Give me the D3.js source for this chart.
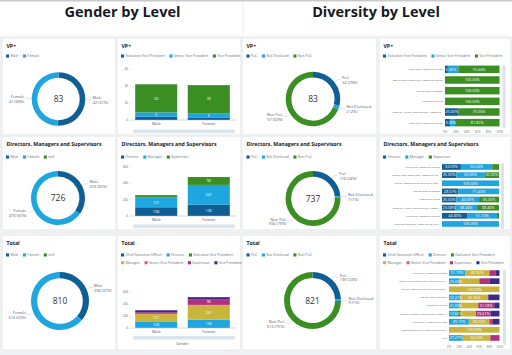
<!DOCTYPE html>
<html><head><meta charset="utf-8">
<script src="https://cdn.jsdelivr.net/npm/d3@7"></script>
<style>
html,body{margin:0;padding:0;background:#eff0f1;}
svg{display:block;font-family:"Open Sans","Noto Sans",Arial,sans-serif;}
</style></head><body>
<svg id="c" width="512" height="355"></svg>
<script>
// ---------------- DATA ----------------
const headerTitles = ["Gender by Level", "Diversity by Level"];
const panelTitles = ["VP+", "Directors, Managers and Supervisors", "Total"];

const genders = ["Male", "Female"];
const genderLegend = ["Male", "Female", "null"];
const vpGenderCounts = [42, 41];
const dmsGenderCounts = [253, 473];
const totalGenderCounts = [296, 514];

const vpLevels = ["Executive Vice President", "Senior Vice President", "Vice President"];
const vpMale = [4, 5, 33];
const vpFemale = [3, 5, 33];
const dmsLevels = ["Director", "Manager", "Supervisor"];
const dmsMale = [106, 121, 26];
const dmsFemale = [136, 241, 96];
const totalLevels = ["Chief Executive Officer", "Director", "Executive Vice President", "Manager", "Senior Vice President", "Supervisor", "Vice President"];
const totalMale = [1, 106, 4, 121, 5, 26, 33];
const totalFemale = [0, 136, 3, 241, 5, 96, 33];
const vpTicks = [0, 20, 40, 60];
const bigTicks = [0, 200, 400, 600];

const divKeys = ["PoC", "Not Disclosed", "Non PoC"];
const vpDivCounts = [24, 2, 57];
const dmsDivCounts = [174, 7, 556];
const totalDivCounts = [199, 9, 613];

const vpRaces = ["White (Not Hispanic or Latino)", "Two or More Races (Not Hispanic or Latino)", "I do not wish to answer", "Hispanic or Latino", "Black or African American (Not Hispanic o...", "Asian (Not Hispanic or Latino)"];
const vpRaceEVP = [5.26, 0, 0, 0, 25.00, 9.09];
const vpRaceSVP = [19.30, 0, 0, 0, 0, 9.09];
const vpRaceVP = [75.44, 100, 100, 100, 75.00, 81.82];

const dmsRaces = ["White (Not Hispanic or Latino)", "Two or More Races (Not Hispanic or Lat...", "Native Hawaiian or Other Pacific Islan...", "I do not wish to answer", "Hispanic or Latino", "Black or African American (Not Hispani...", "Asian (Not Hispanic or Latino)", "American Indian or Alaska Native (Not..."];
const dmsRaceDir = [33.09, 25.00, 0, 28.57, 25.00, 23.08, 44.83, 0];
const dmsRaceMgr = [55.04, 50.00, 100, 71.43, 40.00, 38.46, 51.72, 100];
const dmsRaceSup = [11.87, 25.00, 0, 0, 35.00, 38.46, 3.45, 0];

const totalRaces = ["White (Not Hispanic or Latino)", "Two or More Races (Not Hispanic or Lat...", "Native Hawaiian or Other Pacific Islan...", "I do not wish to answer", "Hispanic or Latino", "Black or African American (Not Hispani...", "Asian (Not Hispanic or Latino)", "American Indian or Alaska Native (Not...", "null"];
const totRaceCEO = [0, 0, 0, 0, 0, 0, 0, 0, 0];
const totRaceDir = [31.73, 20.00, 0, 22.22, 21.05, 17.65, 39.19, 0, 27.27];
const totRaceEVP = [0.54, 0, 0, 0, 0, 5.88, 0.90, 0, 0];
const totRaceMgr = [46.92, 40.00, 100, 55.56, 36.84, 29.41, 38.74, 100, 54.55];
const totRaceSVP = [1.63, 0, 0, 0, 0, 0, 2.70, 0, 0];
const totRaceSup = [11.96, 20.00, 0, 0, 31.58, 29.41, 5.41, 0, 18.18];
const totRaceVP = [7.22, 20.00, 0, 22.22, 10.53, 17.65, 13.06, 0, 0];
const pctTicks = [0, 20, 40, 60, 80, 100];

// ---------------- STYLE ----------------
const C = {dblue:"#0f5f94", lblue:"#1fa6de", green:"#3a8e22", yellow:"#c9b53c", red:"#e8596a", magenta:"#b2307e", purple:"#3b2a8c"};
const c3 = [C.dblue, C.lblue, C.green];
const c7 = [C.dblue, C.lblue, C.green, C.yellow, C.red, C.magenta, C.purple];
const cols = [{x:3,w:112},{x:118,w:122},{x:243,w:133},{x:380,w:130}];
const rows = [{y:39,h:95},{y:137,h:92},{y:236,h:113}];
const gray = "#687078", dark = "#16191f";

const svg = d3.select("#c");
svg.append("rect").attr("width",512).attr("height",355).attr("fill","#eff0f1");
svg.append("rect").attr("x",0).attr("y",0).attr("width",512).attr("height",36).attr("fill","#fff");
svg.append("rect").attr("x",0).attr("y",0).attr("width",512).attr("height",1.5).attr("fill","#c8cacc");
svg.append("line").attr("x1",243).attr("x2",243).attr("y1",1.5).attr("y2",36).attr("stroke","#e6e8ea").attr("stroke-width",0.8);
[122.5, 376].forEach((cx,i)=>svg.append("text").attr("x",cx).attr("y",16.8).attr("text-anchor","middle")
  .attr("font-size",14.5).attr("font-weight",700).attr("fill",dark).text(headerTitles[i]));

rows.forEach(r=>cols.forEach(c=>svg.append("rect").attr("x",c.x).attr("y",r.y).attr("width",c.w).attr("height",r.h).attr("fill","#fff")));

function title(ci, ri, text){
  svg.append("text").attr("x",cols[ci].x+3.5).attr("y",rows[ri].y+8.5).attr("font-size",5.2).attr("font-weight",700).attr("fill",dark).text(text);
}
function legend(x, y, labels, colors, split){
  const groups = split || [labels.map((_,i)=>i)];
  groups.forEach((grp,gi)=>{
    let cx = x; const yy = y + gi*7.8;
    grp.forEach(i=>{
      svg.append("rect").attr("x",cx).attr("y",yy-2.8).attr("width",3.1).attr("height",3.1).attr("fill",colors[i]);
      const t = svg.append("text").attr("x",cx+4.4).attr("y",yy).attr("font-size",3.5).attr("fill",gray).text(labels[i]);
      cx += 4.4 + t.node().getComputedTextLength() + 4.6;
    });
  });
}
function donut(cx, cy, ro, ri, keys, vals, colors){
  const total = d3.sum(vals);
  const pie = d3.pie().sort(null).value(d=>d)(vals);
  const arc = d3.arc().innerRadius(ri).outerRadius(ro);
  const g = svg.append("g").attr("transform",`translate(${cx},${cy})`);
  g.selectAll("path").data(pie).join("path").attr("d",arc).attr("fill",(d,i)=>colors[i]);
  g.append("text").attr("y",3).attr("text-anchor","middle").attr("font-size",8.5).attr("fill","#333").text(total);
  pie.forEach((d,i)=>{
    const m = (d.startAngle+d.endAngle)/2, s = Math.sin(m), co = -Math.cos(m);
    const side = s >= 0 ? 1 : -1;
    const ex = ro*s;
    const x1 = (ro+1)*s, y1 = (ro+1)*co, x2 = (ro+4)*s, y2 = (ro+4)*co;
    const tx = ex + side*7.5;
    g.append("path").attr("d",`M${x1},${y1}L${x2},${y2}L${tx-side*1},${y2}`).attr("fill","none").attr("stroke","#b7bcc1").attr("stroke-width",0.45);
    const ctr = y2 + 0.5;
    const anchor = side>0 ? "start" : "end";
    g.append("text").attr("x",tx).attr("y",ctr-0.9).attr("text-anchor",anchor).attr("font-size",3.9).attr("fill","#545b64").text(keys[i]);
    g.append("text").attr("x",tx).attr("y",ctr+3.8).attr("text-anchor",anchor).attr("font-size",3.9).attr("fill","#545b64")
      .text(`${vals[i]} (${Math.round(vals[i]/total*100)}%)`);
  });
}
function vbar(ri, y0px, y1px, domMax, ticks, levels, seriesByCat, colors, scrollY, axisTitle){
  const x = d3.scaleBand().domain(genders).range([131,234]).paddingInner(0.2).paddingOuter(0.08);
  const y = d3.scaleLinear().domain([0,domMax]).range([y0px,y1px]);
  const data = genders.map((gname,i)=>{const o={cat:gname}; levels.forEach((l,j)=>o[l]=seriesByCat[i][j]); return o;});
  const st = d3.stack().keys(levels)(data);
  const g = svg.append("g");
  st.forEach((layer,li)=>{
    layer.forEach(d=>{
      const h = y(d[0])-y(d[1]);
      if(h<=0) return;
      g.append("rect").attr("x",x(d.data.cat)).attr("y",y(d[1])).attr("width",x.bandwidth()).attr("height",h).attr("fill",colors[li]);
      if(h>=3.6) g.append("text").attr("x",x(d.data.cat)+x.bandwidth()/2).attr("y",(y(d[0])+y(d[1]))/2+1.3)
        .attr("text-anchor","middle").attr("font-size",3.7).attr("fill","#fff").text(d[1]-d[0]);
    });
  });
  const ax = g.append("g").attr("transform","translate(131,0)").call(d3.axisLeft(y).tickValues(ticks).tickSize(1.5).tickPadding(1.5));
  ax.select(".domain").remove();
  ax.selectAll("line").attr("stroke","#aab7b8").attr("stroke-width",0.4);
  ax.selectAll("text").attr("font-size",3).attr("fill",gray).attr("font-family","inherit");
  g.append("line").attr("x1",131).attr("x2",236).attr("y1",y0px).attr("y2",y0px).attr("stroke","#aab7b8").attr("stroke-width",0.5);
  genders.forEach(gn=>g.append("text").attr("x",x(gn)+x.bandwidth()/2).attr("y",y0px+5.2).attr("text-anchor","middle").attr("font-size",3.8).attr("fill","#545b64").text(gn));
  g.append("rect").attr("x",133).attr("y",scrollY).attr("width",102).attr("height",3.4).attr("rx",1).attr("fill","#d9e5ec");
  if(axisTitle) g.append("text").attr("x",182.5).attr("y",scrollY+9).attr("text-anchor","middle").attr("font-size",3.6).attr("fill","#545b64").text(axisTitle);
}
function hbar(cats, levels, series, colors, px0, px1, yTop, yBot, labelX, axisY, scroll){
  const x = d3.scaleLinear().domain([0,100]).range([px0,px1]);
  const y = d3.scaleBand().domain(cats).range([yTop,yBot]).paddingInner(0.3).paddingOuter(0.15);
  const data = cats.map((c,i)=>{const o={cat:c}; levels.forEach((l,j)=>o[l]=series[j][i]); return o;});
  const st = d3.stack().keys(levels)(data);
  const g = svg.append("g");
  st.forEach((layer,li)=>layer.forEach(d=>{
    const w = x(d[1])-x(d[0]); if(w<=0) return;
    g.append("rect").attr("x",x(d[0])).attr("y",y(d.data.cat)).attr("width",w).attr("height",y.bandwidth()).attr("fill",colors[li]);
  }));
  cats.forEach((c,ci)=>{
    let lastEnd = -1e9, first = true;
    st.forEach(layer=>{
      const d = layer[ci]; const v = d[1]-d[0]; const w = x(d[1])-x(d[0]);
      if(w < 2.5) return;
      const isFirst = first; first = false;
      const t = g.append("text").attr("font-size",3.8).attr("fill","#fff").attr("text-anchor","middle").text(v.toFixed(2)+"%");
      const tw = t.node().getComputedTextLength();
      let cx = Math.max((x(d[0])+x(d[1]))/2, px0 + tw/2 + 0.5);
      cx = Math.min(cx, px1 - tw/2 - 0.5);
      if(cx - tw/2 < lastEnd + 0.5 || (!isFirst && w < tw*0.95)){ t.remove(); return; }
      t.attr("x",cx).attr("y",y(c)+y.bandwidth()/2+1.35);
      lastEnd = cx + tw/2;
    });
    g.append("text").attr("x",labelX).attr("y",y(c)+y.bandwidth()/2+0.9).attr("text-anchor","end").attr("font-size",2.5).attr("fill","#545b64").text(c);
  });
  if(axisY) pctTicks.forEach(t=>g.append("text").attr("x",x(t)).attr("y",axisY).attr("text-anchor","middle").attr("font-size",2.8).attr("fill",gray).text(t+"%"));
  g.append("rect").attr("x",scroll[0]).attr("y",scroll[1]).attr("width",3).attr("height",scroll[2]).attr("rx",1).attr("fill","#d9e5ec");
}

// ---- Row 1: VP+ ----
title(0,0,panelTitles[0]); legend(6,57.3,genders,c3);
donut(58.5,99,26.8,21.2,genders,vpGenderCounts,c3);
title(1,0,panelTitles[0]); legend(121,57.3,vpLevels,c3);
vbar(0,120,69,60,vpTicks,vpLevels,[vpMale,vpFemale],c3,129.5);
title(2,0,panelTitles[0]); legend(246.5,57.3,divKeys,c3);
donut(313,99,27.3,21.6,divKeys,vpDivCounts,c3);
title(3,0,panelTitles[0]); legend(383,57.3,vpLevels,c3);
hbar(vpRaces,vpLevels,[vpRaceEVP,vpRaceSVP,vpRaceVP],c3,445,499.5,64,128,443,133,[502.5,65,63]);

// ---- Row 2: D/M/S ----
title(0,1,panelTitles[1]); legend(6,158.3,genderLegend,c3);
donut(58,198,27,21.4,genders,dmsGenderCounts,c3);
title(1,1,panelTitles[1]); legend(121,158.3,dmsLevels,c3);
vbar(1,216,166.5,600,bigTicks,dmsLevels,[dmsMale,dmsFemale],c3,224.5);
title(2,1,panelTitles[1]); legend(246.5,158.3,divKeys,c3);
donut(313,198.5,27.5,21.8,divKeys,dmsDivCounts,c3);
title(3,1,panelTitles[1]); legend(383,158.3,dmsLevels,c3);
hbar(dmsRaces,dmsLevels,[dmsRaceDir,dmsRaceMgr,dmsRaceSup],c3,442,499,162.9,228,440,null,[501,163,66]);

// ---- Row 3: Total ----
title(0,2,panelTitles[2]); legend(6,256.2,genderLegend,c3);
donut(60,301,29,22.8,genders,totalGenderCounts,c3);
title(1,2,panelTitles[2]); legend(121,256.2,totalLevels,c7,[[0,1,2],[3,4,5,6]]);
vbar(2,328,292,600,bigTicks,totalLevels,[totalMale,totalFemale],c7,336,"Gender");
title(2,2,panelTitles[2]); legend(246.5,256.2,divKeys,c3);
donut(312.5,300.5,28.5,22.6,divKeys,totalDivCounts,c3);
title(3,2,panelTitles[2]); legend(383,256.2,totalLevels,c7,[[0,1,2],[3,4,5,6]]);
hbar(totalRaces,totalLevels,[totRaceCEO,totRaceDir,totRaceEVP,totRaceMgr,totRaceSVP,totRaceSup,totRaceVP],c7,449,499.5,269,342,447,347.5,[503,270,75]);
</script>
</body></html>
